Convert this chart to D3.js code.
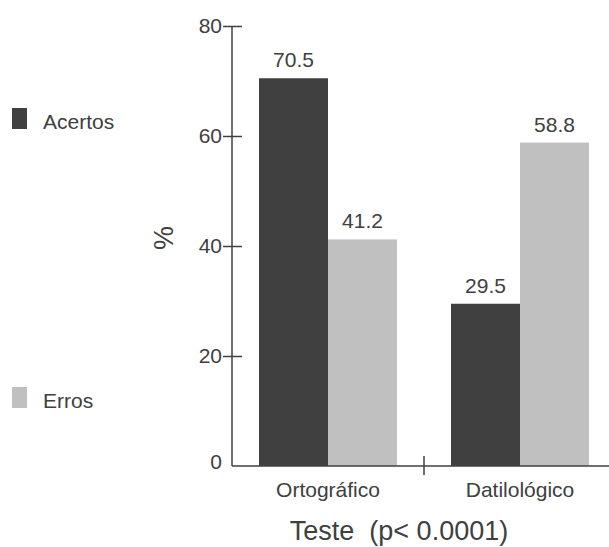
<!DOCTYPE html>
<html>
<head>
<meta charset="utf-8">
<script src="https://cdn.jsdelivr.net/npm/d3@7"></script>
<style>
  html, body { margin: 0; padding: 0; background: #fff; }
  svg { display: block; font-family: "Liberation Sans", Arial, sans-serif; }
</style>
</head>
<body>
<svg id="chart" width="609" height="547"></svg>
<script>
// Test types (x categories) and result series
const categories = ["Ortográfico", "Datilológico"];
const seriesNames = ["Acertos", "Erros"];
const acertos = [70.5, 29.5];
const erros = [41.2, 58.8];
const yTicks = [0, 20, 40, 60, 80];
const xTitle = "Teste  (p< 0.0001)";
const yTitle = "%";

const colors = { Acertos: "#404040", Erros: "#c0c0c0" };
const textColor = "#404040";
const axisColor = "#404040";

const svg = d3.select("#chart");

const rows = categories.map((c, i) => ({ cat: c, Acertos: acertos[i], Erros: erros[i] }));

const left = 232, zeroY = 466, topY = 26;
const x = d3.scaleBand().domain(categories).range([left, left + 384]).padding(0);
const xInner = d3.scaleBand().domain(seriesNames).range([27, x.bandwidth() - 27]).padding(0);
const y = d3.scaleLinear().domain([0, 80]).range([zeroY, topY]);

// Bars
const groups = svg.append("g").selectAll("g").data(rows).join("g")
  .attr("transform", d => `translate(${x(d.cat)},0)`);

groups.selectAll("rect").data(d => seriesNames.map(s => ({ s, v: d[s] }))).join("rect")
  .attr("x", d => xInner(d.s))
  .attr("width", xInner.bandwidth())
  .attr("y", d => y(d.v))
  .attr("height", d => y(0) - y(d.v))
  .attr("fill", d => colors[d.s]);

// Value labels above each bar
groups.selectAll("text.val").data(d => seriesNames.map(s => ({ s, v: d[s] }))).join("text")
  .attr("class", "val")
  .attr("x", d => xInner(d.s) + xInner.bandwidth() / 2)
  .attr("y", d => y(d.v) - 11)
  .attr("text-anchor", "middle")
  .attr("font-size", 21)
  .attr("fill", textColor)
  .text(d => d.v.toFixed(1));

// Y axis
const yAxis = d3.axisLeft(y).tickValues(yTicks.filter(t => t > 0)).tickSize(0).tickFormat(d3.format("d"));
const yg = svg.append("g").attr("transform", `translate(${left},0)`).call(yAxis);
yg.select(".domain").remove();
yg.selectAll(".tick text").remove();
yg.append("line").attr("x1", 0).attr("x2", 0).attr("y1", y(80)).attr("y2", y(0))
  .attr("stroke", axisColor).attr("stroke-width", 1.5);
yg.selectAll(".tick").append("line")
  .attr("x1", -9).attr("x2", 10)
  .attr("stroke", axisColor).attr("stroke-width", 1.5);
svg.append("g").selectAll("text").data(yTicks).join("text")
  .attr("x", 222)
  .attr("y", d => y(d) + (d === 0 ? -4 : 0))
  .attr("dy", "0.35em")
  .attr("text-anchor", "end")
  .attr("font-size", 21)
  .attr("fill", textColor)
  .text(d => d);

// X axis
const xg = svg.append("g").attr("transform", `translate(0,${zeroY})`);
xg.append("line").attr("x1", left).attr("x2", 609).attr("y1", 0).attr("y2", 0)
  .attr("stroke", axisColor).attr("stroke-width", 1.5);
xg.selectAll("line.sep").data(categories.slice(1)).join("line")
  .attr("class", "sep")
  .attr("x1", d => x(d)).attr("x2", d => x(d))
  .attr("y1", -10).attr("y2", 9)
  .attr("stroke", axisColor).attr("stroke-width", 1.5);
xg.selectAll("text").data(categories).join("text")
  .attr("x", d => x(d) + x.bandwidth() / 2)
  .attr("y", 31)
  .attr("text-anchor", "middle")
  .attr("font-size", 21)
  .attr("fill", textColor)
  .text(d => d);

// Axis titles
svg.append("text")
  .attr("x", 399).attr("y", 540)
  .attr("text-anchor", "middle")
  .attr("font-size", 27)
  .attr("fill", textColor)
  .style("white-space", "pre")
  .text(xTitle);

svg.append("text")
  .attr("transform", "translate(173,238) rotate(-90)")
  .attr("text-anchor", "middle")
  .attr("font-size", 27)
  .attr("fill", textColor)
  .text(yTitle);

// Legend
const legendY = { Acertos: 108, Erros: 387 };
const lg = svg.append("g").selectAll("g").data(seriesNames).join("g")
  .attr("transform", d => `translate(12,${legendY[d]})`);
lg.append("rect").attr("width", 15).attr("height", 21).attr("fill", d => colors[d]);
lg.append("text")
  .attr("x", 31).attr("y", 21)
  .attr("font-size", 21)
  .attr("fill", textColor)
  .text(d => d);
</script>
</body>
</html>
